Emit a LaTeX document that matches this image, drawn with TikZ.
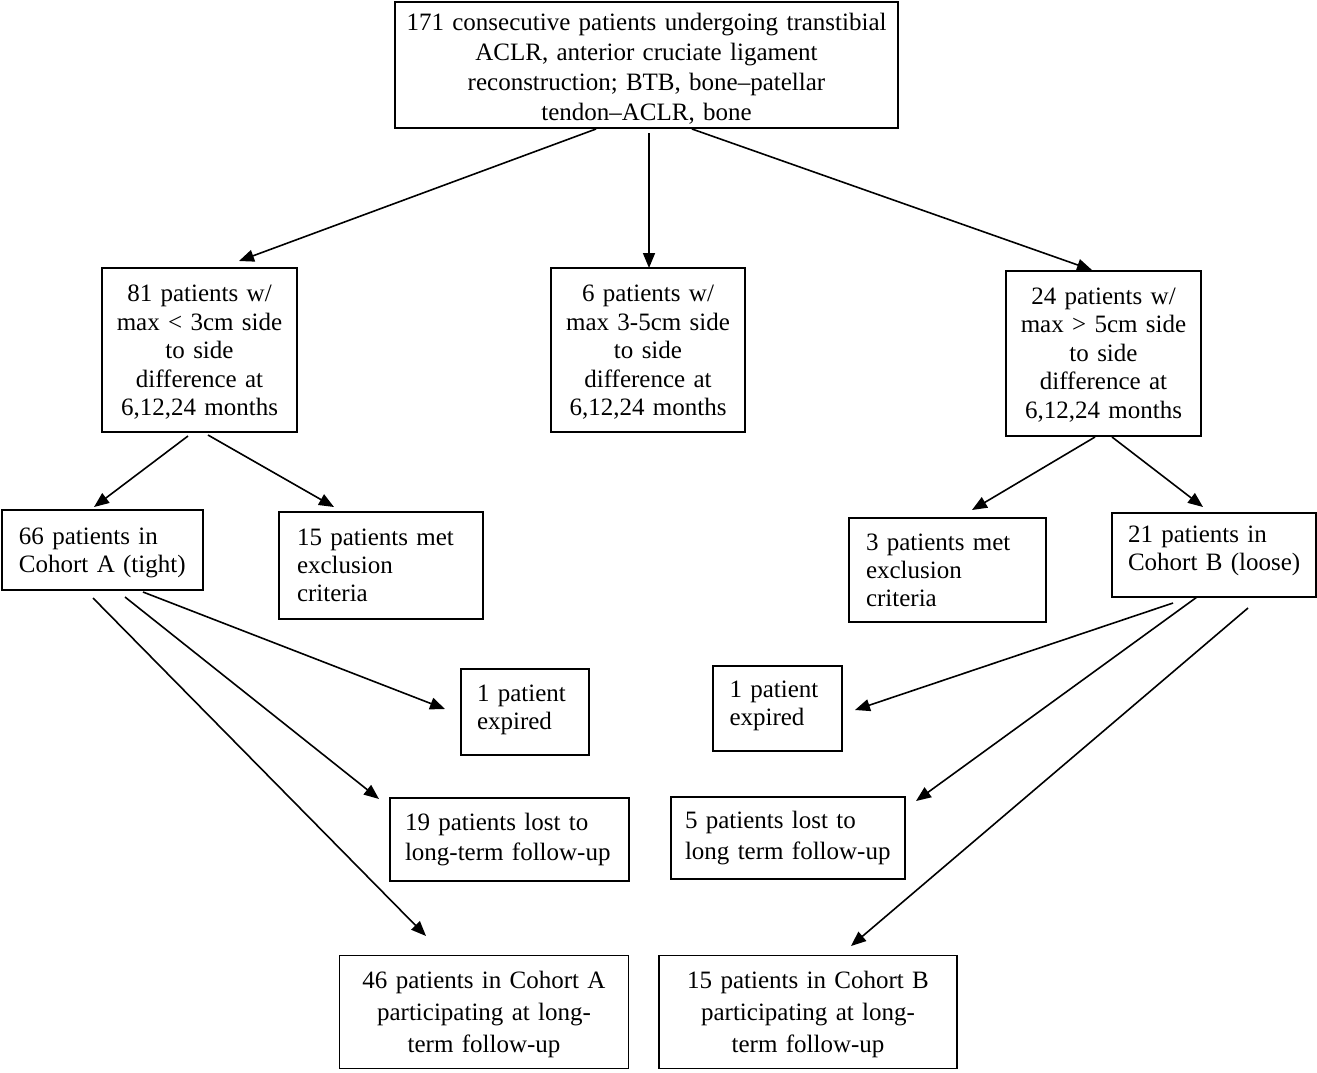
\documentclass[tikz,border=0pt]{standalone}
\usepackage{fontspec}
\setmainfont{Liberation Serif}
\usetikzlibrary{arrows.meta}
\newcommand\lowerby[1]{\rule{0pt}{#1}}
\newcommand\raiseby[1]{\rule[-#1]{0pt}{#1}}
\begin{document}
\begin{tikzpicture}[x=1pt,y=-1pt,
  box/.style={draw, line width=1.8pt, rectangle, inner sep=0pt, font=\fontsize{25}{28}\selectfont},
  cbox/.style={box, align=center},
  lbox/.style={box, align=left},
  arr/.style={line width=1.6pt, -{Triangle[length=15pt,width=12pt]}}]
\useasboundingbox (0,0) rectangle (1317,1072);

% boxes
\node[cbox, line width=2.4pt, minimum width=503pt, minimum height=126pt, text width=495pt,
      font=\fontsize{25}{30}\selectfont] (top) at (646.5,65)
  {\lowerby{25.3pt}171 consecutive patients undergoing transtibial\\ ACLR, anterior cruciate ligament\\ reconstruction; BTB, bone–patellar\\ tendon–ACLR, bone};

\node[cbox, minimum width=195pt, minimum height=164pt, text width=185pt,
      font=\fontsize{25}{28.5}\selectfont] (b81) at (199.5,350)
  {\lowerby{21pt}81 patients w/\\ max < 3cm side\\ to side\\ difference at\\ 6,12,24 months};
\node[cbox, minimum width=194pt, minimum height=164pt, text width=184pt,
      font=\fontsize{25}{28.5}\selectfont] (b6) at (648,350)
  {\lowerby{21pt}6 patients w/\\ max 3-5cm side\\ to side\\ difference at\\ 6,12,24 months};
\node[cbox, minimum width=195pt, minimum height=165pt, text width=185pt,
      font=\fontsize{25}{28.5}\selectfont] (b24) at (1103.5,353.5)
  {\lowerby{19pt}24 patients w/\\ max > 5cm side\\ to side\\ difference at\\ 6,12,24 months};

\node[lbox, minimum width=201pt, minimum height=80pt, text width=167pt] (b66) at (102.5,550)
  {\lowerby{23.3pt}66 patients in\\ Cohort A (tight)};
\node[lbox, minimum width=204pt, minimum height=107pt, text width=168pt] (bex15) at (381,565.5)
  {15 patients met\\ exclusion\\ criteria};
\node[lbox, minimum width=197pt, minimum height=104pt, text width=163pt] (bex3) at (947.5,570)
  {3 patients met\\ exclusion\\ criteria};
\node[lbox, minimum width=204pt, minimum height=84pt, text width=172pt] (b21) at (1214,555)
  {21 patients in\\ \mbox{Cohort B (loose)}\raiseby{13.4pt}};

\node[lbox, minimum width=128pt, minimum height=86pt, text width=96pt] (expL) at (525,712)
  {1 patient\\ expired\raiseby{9.4pt}};
\node[lbox, minimum width=129pt, minimum height=85pt, text width=96pt] (expR) at (777.5,708.5)
  {1 patient\\ expired\raiseby{11.4pt}};

\node[lbox, minimum width=239pt, minimum height=83pt, text width=209pt,
      font=\fontsize{25}{30.5}\selectfont] (lost19) at (509.5,839.5)
  {19 patients lost to\\ long-term follow-up};
\node[lbox, minimum width=234pt, minimum height=82pt, text width=206pt,
      font=\fontsize{25}{30.5}\selectfont] (lost5) at (788,838)
  {5 patients lost to\\ long term follow-up};

\node[cbox, minimum width=289pt, minimum height=113pt, text width=279pt,
      font=\fontsize{25}{32}\selectfont] (b46) at (484,1012)
  {\lowerby{23pt}46 patients in Cohort A\\ participating at long-\\ term follow-up};
\node[cbox, minimum width=298pt, minimum height=113pt, text width=288pt,
      font=\fontsize{25}{32}\selectfont] (b15) at (808,1012)
  {\lowerby{23pt}15 patients in Cohort B\\ participating at long-\\ term follow-up};

% connector end points
\coordinate (s1) at (596,129);  \coordinate (e1) at (239,261);
\coordinate (s2) at (649,133);  \coordinate (e2) at (649,268);
\coordinate (s3) at (692,129);  \coordinate (e3) at (1092,270);
\coordinate (s4) at (188,436);  \coordinate (e4) at (94,507);
\coordinate (s5) at (208,435);  \coordinate (e5) at (334,507);
\coordinate (s6) at (1095,437); \coordinate (e6) at (972,510);
\coordinate (s7) at (1112,437); \coordinate (e7) at (1203,507);
\coordinate (s8) at (143,592);  \coordinate (e8) at (445,709);
\coordinate (s9) at (125,597);  \coordinate (e9) at (379,799);
\coordinate (s10) at (93,598);  \coordinate (e10) at (426,936);
\coordinate (s11) at (1173,603); \coordinate (e11) at (855,710);
\coordinate (s12) at (1197,597); \coordinate (e12) at (916,801);
\coordinate (s13) at (1248,608); \coordinate (e13) at (851,946);

\foreach \i in {1,...,13} \draw[arr] (s\i) -- (e\i);
\end{tikzpicture}
\end{document}
